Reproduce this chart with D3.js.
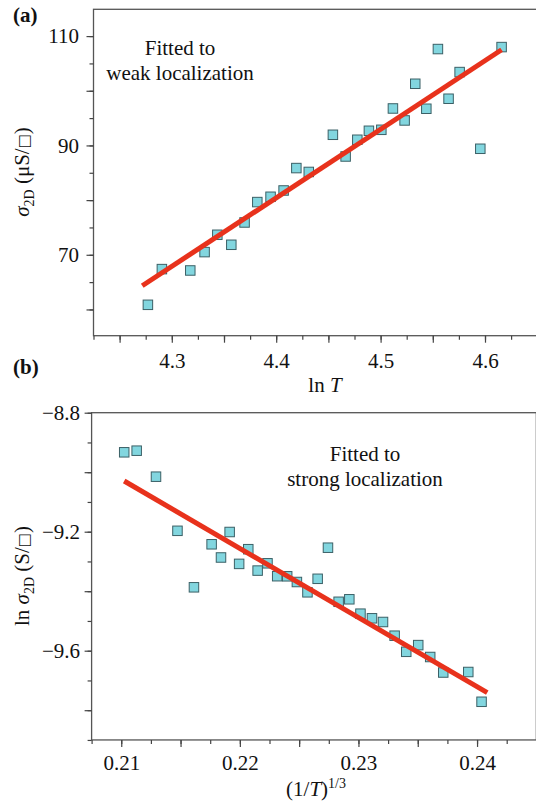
<!DOCTYPE html>
<html><head><meta charset="utf-8">
<script src="https://cdn.jsdelivr.net/npm/d3@7"></script>
<style>
body{margin:0;background:#fff}
svg{display:block}
text{font-family:"Liberation Serif","Times New Roman",serif;fill:#111}
</style>
</head><body>
<svg id="chart" width="536" height="803"></svg>
<script>
// ---------- Panel (a): weak localization ----------
const lnT = [4.2771, 4.2905, 4.3177, 4.3314, 4.3436, 4.3570, 4.3697, 4.3819, 4.3946, 4.4071,
             4.4193, 4.4312, 4.4543, 4.4665, 4.4777, 4.4888, 4.5007, 4.5118, 4.5230, 4.5332,
             4.5438, 4.5549, 4.5651, 4.5757, 4.5955, 4.6159];
const sigma2D = [60.85, 67.38, 67.13, 70.49, 73.66, 71.83, 75.91, 79.64, 80.61, 81.76,
                 85.86, 85.15, 91.95, 87.98, 91.04, 92.68, 92.86, 96.76, 94.57, 101.28,
                 96.71, 107.63, 98.54, 103.42, 89.39, 107.99];
const weakFitX = [4.2717, 4.6159];
const weakFitY = [64.33, 107.5];
const aXTickLabels = [4.3, 4.4, 4.5, 4.6];
const aYTickLabels = [70, 90, 110];

// ---------- Panel (b): strong localization ----------
const invT13 = [0.21025, 0.21130, 0.21293, 0.21474, 0.21613, 0.21762, 0.21841, 0.21914, 0.21994, 0.22071,
                0.22150, 0.22233, 0.22315, 0.22399, 0.22481, 0.22570, 0.22656, 0.22743, 0.22833, 0.22923,
                0.23017, 0.23114, 0.23207, 0.23305, 0.23403, 0.23504, 0.23605, 0.23715, 0.23926, 0.24038];
const lnSigma2D = [-8.9331, -8.9277, -9.0151, -9.1970, -9.3869, -9.2423, -9.2867, -9.2010, -9.3082, -9.2588,
                   -9.3307, -9.3062, -9.3496, -9.3499, -9.3691, -9.4037, -9.3583, -9.2538, -9.4356, -9.4272,
                   -9.4756, -9.4911, -9.5035, -9.5496, -9.6037, -9.5812, -9.6212, -9.6733, -9.6716, -9.7717];
const strongFitX = [0.21025, 0.24086];
const strongFitY = [-9.0296, -9.741];
const bXTickLabels = [0.21, 0.22, 0.23, 0.24];
const bYTickLabels = [-9.6, -9.2, -8.8];

const svg = d3.select("#chart");
const FONT = "Liberation Serif, Times New Roman, serif";
const near = (arr, v) => arr.some(a => Math.abs(a - v) < 1e-9);
const rangeStep = (a, b, s) => d3.range(Math.round((b - a) / s) + 1).map(i => +(a + i * s).toFixed(6));

function styleAxis(g) {
  g.select(".domain").remove();
  g.selectAll(".tick line").attr("stroke", "#444").attr("stroke-width", 1.2);
  g.attr("font-family", FONT).attr("font-size", 21);
  g.selectAll("text").attr("fill", "#111");
}

function drawPanel(o) {
  const g = svg.append("g");
  const x = d3.scaleLinear().domain(o.xDomain).range(o.xRange);
  const y = d3.scaleLinear().domain(o.yDomain).range(o.yRange);

  g.append("rect")
    .attr("x", o.xRange[0]).attr("y", o.yRange[1])
    .attr("width", o.xRange[1] - o.xRange[0]).attr("height", o.yRange[0] - o.yRange[1])
    .attr("fill", "none").attr("stroke", "#555").attr("stroke-width", 1.3);

  g.append("g").attr("transform", `translate(0,${o.yRange[0]})`)
    .call(d3.axisBottom(x).tickValues(o.xMinor).tickSize(4).tickSizeOuter(0).tickFormat(""))
    .call(styleAxis);
  g.append("g").attr("transform", `translate(0,${o.yRange[0]})`)
    .call(d3.axisBottom(x).tickValues(o.xMajor).tickSize(7).tickSizeOuter(0).tickPadding(o.xPad)
      .tickFormat(d => near(o.xLabels, d) ? o.xFmt(d) : ""))
    .call(styleAxis);

  g.append("g").attr("transform", `translate(${o.xRange[0]},0)`)
    .call(d3.axisLeft(y).tickValues(o.yMinor).tickSize(4).tickSizeOuter(0).tickFormat(""))
    .call(styleAxis);
  g.append("g").attr("transform", `translate(${o.xRange[0]},0)`)
    .call(d3.axisLeft(y).tickValues(o.yMajor).tickSize(7).tickSizeOuter(0).tickPadding(o.yPad)
      .tickFormat(d => near(o.yLabels, d) ? o.yFmt(d) : ""))
    .call(styleAxis);

  const s = 9.5;
  g.selectAll("rect.pt").data(d3.zip(o.xs, o.ys)).join("rect")
    .attr("class", "pt")
    .attr("x", d => x(d[0]) - s / 2).attr("y", d => y(d[1]) - s / 2)
    .attr("width", s).attr("height", s)
    .attr("fill", "#82d6df").attr("stroke", "#3b6066").attr("stroke-width", 1);

  g.append("line")
    .attr("x1", x(o.fitX[0])).attr("y1", y(o.fitY[0]))
    .attr("x2", x(o.fitX[1])).attr("y2", y(o.fitY[1]))
    .attr("stroke", "#e8321c").attr("stroke-width", 5);

  const ann = g.append("text").attr("font-size", 21).attr("text-anchor", "middle");
  o.ann.forEach((t, i) => ann.append("tspan").attr("x", o.annX).attr("y", o.annY[i]).text(t));

  g.append("text").attr("x", o.tagX).attr("y", o.tagY).attr("font-size", 21)
    .attr("font-weight", "bold").text(o.tag);

  return g;
}

function squareGlyph(t) {
  t.append("tspan").attr("font-family", "DejaVu Sans").attr("font-size", 15)
    .attr("fill", "#111").text("\u25A1");
}

// Panel (a)
const ga = drawPanel({
  xs: lnT, ys: sigma2D, fitX: weakFitX, fitY: weakFitY,
  xDomain: [4.225, 4.65], xRange: [93.5, 537.2],
  yDomain: [55.2, 114.9], yRange: [335.7, 9.3],
  xMinor: rangeStep(4.225, 4.65, 0.025), xMajor: rangeStep(4.25, 4.65, 0.05),
  yMinor: rangeStep(60, 110, 5), yMajor: rangeStep(60, 110, 10),
  xLabels: aXTickLabels, yLabels: aYTickLabels,
  xFmt: d3.format(".1f"), yFmt: d3.format("d"),
  xPad: 10, yPad: 7.5,
  ann: ["Fitted to", "weak localization"], annX: 180, annY: [54.5, 80],
  tag: "(a)", tagX: 13, tagY: 22
});
const ta = ga.append("text").attr("font-size", 21).attr("text-anchor", "middle")
  .attr("transform", "translate(29,172) rotate(-90)");
ta.append("tspan").attr("font-style", "italic").text("σ");
ta.append("tspan").attr("font-size", 14).attr("dy", 5).text("2D");
ta.append("tspan").attr("dy", -5).text(" (μS/");
squareGlyph(ta);
ta.append("tspan").text(")");
const xa = ga.append("text").attr("font-size", 21).attr("text-anchor", "middle")
  .attr("x", 325).attr("y", 392);
xa.append("tspan").text("ln ");
xa.append("tspan").attr("font-style", "italic").text("T");

// Panel (b)
const gb = drawPanel({
  xs: invT13, ys: lnSigma2D, fitX: strongFitX, fitY: strongFitY,
  xDomain: [0.2075, 0.245], xRange: [91.6, 536.35],
  yDomain: [-9.9, -8.8], yRange: [739.95, 412.7],
  xMinor: rangeStep(0.2075, 0.245, 0.0025), xMajor: rangeStep(0.21, 0.245, 0.005),
  yMinor: rangeStep(-9.9, -8.8, 0.1), yMajor: rangeStep(-9.8, -8.8, 0.2),
  xLabels: bXTickLabels, yLabels: bYTickLabels,
  xFmt: d3.format(".2f"), yFmt: d3.format(".1f"),
  xPad: 8, yPad: 4.6,
  ann: ["Fitted to", "strong localization"], annX: 365, annY: [461, 486],
  tag: "(b)", tagX: 13, tagY: 374
});
const tb = gb.append("text").attr("font-size", 21).attr("text-anchor", "middle")
  .attr("transform", "translate(29,576) rotate(-90)");
tb.append("tspan").text("ln ");
tb.append("tspan").attr("font-style", "italic").text("σ");
tb.append("tspan").attr("font-size", 14).attr("dy", 5).text("2D");
tb.append("tspan").attr("dy", -5).text(" (S/");
squareGlyph(tb);
tb.append("tspan").text(")");
const xb = gb.append("text").attr("font-size", 21).attr("text-anchor", "middle")
  .attr("x", 316).attr("y", 796);
xb.append("tspan").text("(1/");
xb.append("tspan").attr("font-style", "italic").text("T");
xb.append("tspan").text(")");
xb.append("tspan").attr("font-size", 14).attr("dy", -8).text("1/3");
</script>
</body></html>
